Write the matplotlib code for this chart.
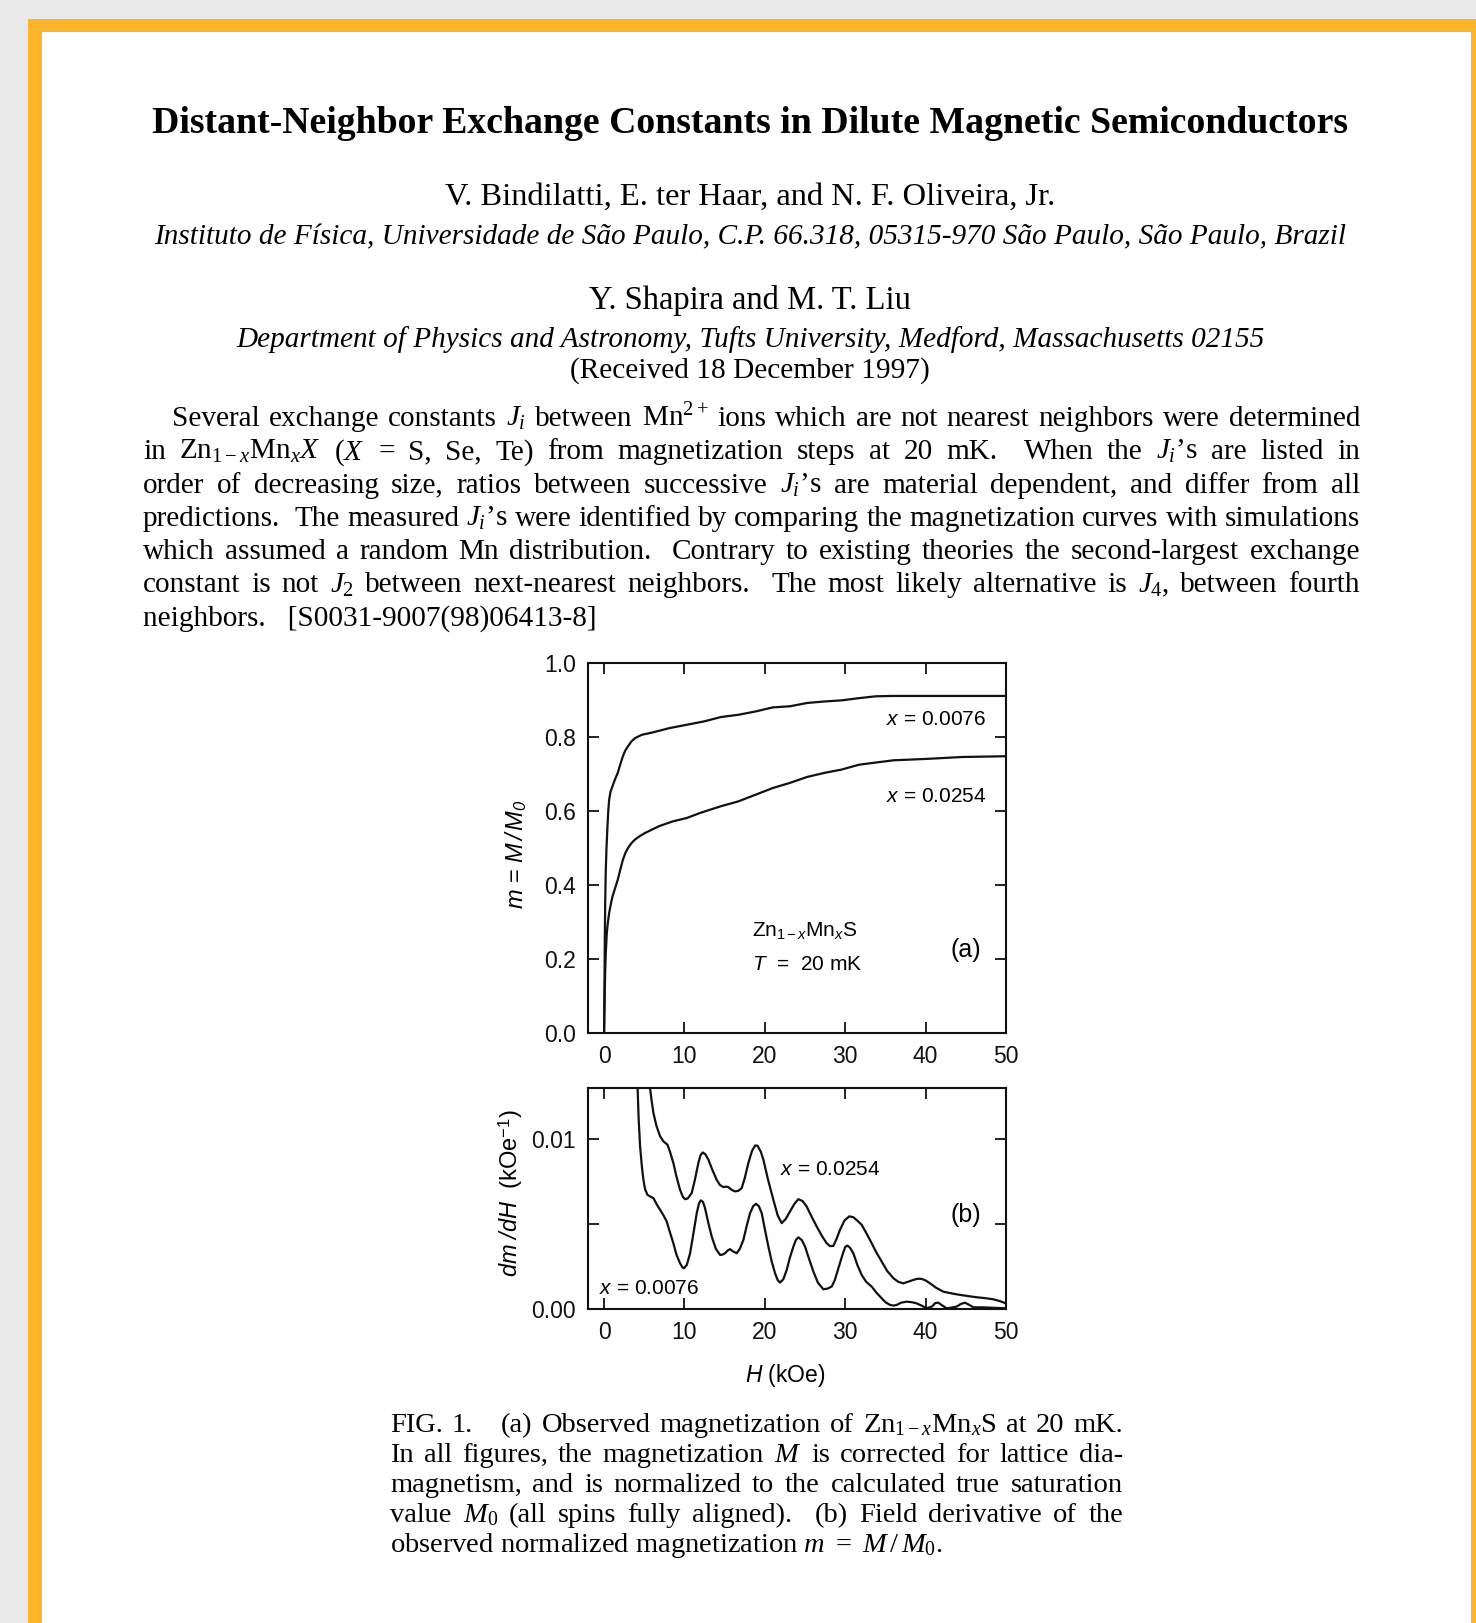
import matplotlib
matplotlib.use('Agg')
import matplotlib.pyplot as plt
from matplotlib.patches import Rectangle

W, H = 1476, 1623

# (a) magnetization curves
h_a_0076 = [0.0, 0.05, 0.09, 0.14, 0.2, 0.3, 0.42, 0.52, 0.63, 0.8, 1.05, 1.35, 1.7, 2.0, 2.34, 2.65,
            2.98, 3.4, 3.85, 4.7, 5.98, 8.12, 10.27, 12.41, 14.55, 16.7, 18.84, 20.98, 23.12, 25.26,
            27.4, 29.55, 31.7, 33.8, 36.0, 40.3, 50.0]
m_a_0076 = [0.0, 0.12, 0.25, 0.35, 0.43, 0.5, 0.557, 0.6, 0.63, 0.652, 0.667, 0.685, 0.703, 0.725, 0.748, 0.764,
            0.775, 0.788, 0.797, 0.806, 0.812, 0.824, 0.833, 0.842, 0.854, 0.86, 0.869, 0.88, 0.883, 0.892,
            0.896, 0.899, 0.905, 0.91, 0.911, 0.911, 0.911]
h_a_0254 = [0.0, 0.06, 0.13, 0.22, 0.34, 0.48, 0.63, 0.85, 1.05, 1.35, 1.7, 2.0, 2.34, 2.65, 2.98, 3.4,
            3.85, 4.5, 5.13, 6.84, 8.55, 10.27, 11.98, 14.55, 16.7, 18.84, 20.98, 23.12, 25.26, 27.4,
            29.55, 31.7, 33.8, 36.0, 40.3, 44.6, 50.0]
m_a_0254 = [0.0, 0.08, 0.16, 0.22, 0.27, 0.3, 0.324, 0.35, 0.369, 0.39, 0.414, 0.44, 0.468, 0.487, 0.5, 0.513,
            0.523, 0.533, 0.541, 0.559, 0.572, 0.581, 0.595, 0.613, 0.626, 0.644, 0.662, 0.676, 0.692, 0.703,
            0.712, 0.725, 0.731, 0.737, 0.741, 0.746, 0.748]

# (b) dm/dH in units of 1e-3 kOe^-1
h_b_0254 = [5.64, 5.9, 6.14, 6.5, 6.97, 7.4, 7.88, 8.2, 8.62, 9.0, 9.45, 9.8, 10.07, 10.4, 10.9, 11.3,
            11.73, 12.0, 12.27, 12.6, 12.98, 13.5, 14.01, 14.4, 14.84, 15.2, 15.46, 15.9, 16.29, 16.7,
            17.12, 17.5, 17.95, 18.4, 18.8, 19.1, 19.5, 19.82, 20.4, 21.06, 21.6, 22.1, 22.6, 23.13,
            23.7, 24.17, 24.7, 25.2, 25.8, 26.45, 27.1, 27.69, 28.1, 28.52, 28.9, 29.35, 29.9, 30.5,
            31.0, 31.5, 32.05, 32.7, 33.29, 33.9, 34.54, 35.2, 35.99, 36.6, 37.23, 37.8, 38.47, 39.0,
            39.5, 40.0, 40.55, 41.3, 42.2, 43.2, 44.28, 45.3, 46.35, 47.4, 48.42, 49.2, 50.0]
d_b_0254 = [13.3, 12.3, 11.53, 10.8, 10.16, 9.85, 9.67, 9.25, 8.59, 7.8, 7.01, 6.6, 6.46, 6.5, 6.82, 7.6,
            8.59, 9.05, 9.21, 9.1, 8.78, 8.15, 7.6, 7.3, 7.17, 7.2, 7.17, 7.0, 6.92, 6.95,
            7.11, 7.7, 8.59, 9.3, 9.62, 9.6, 9.25, 8.78, 7.6, 6.42, 5.5, 5.05, 5.3, 5.74,
            6.2, 6.46, 6.35, 6.03, 5.45, 4.85, 4.3, 3.87, 3.7, 3.71, 4.1, 4.66, 5.2, 5.45,
            5.4, 5.2, 4.95, 4.4, 3.87, 3.3, 2.79, 2.25, 1.81, 1.6, 1.51, 1.6, 1.71, 1.78,
            1.77, 1.68, 1.51, 1.25, 1.02, 0.92, 0.83, 0.76, 0.69, 0.64, 0.57, 0.47, 0.33]
h_b_0076 = [4.15, 4.3, 4.48, 4.7, 4.89, 5.1, 5.39, 5.8, 6.14, 6.5, 6.97, 7.4, 7.79, 8.2, 8.62, 9.0,
            9.45, 9.75, 9.95, 10.3, 10.7, 11.1, 11.53, 11.8, 12.02, 12.3, 12.56, 12.95, 13.39, 13.9,
            14.43, 14.75, 15.05, 15.4, 15.67, 16.0, 16.5, 16.9, 17.33, 17.75, 18.16, 18.55, 18.91, 19.25,
            19.61, 20.0, 20.44, 20.85, 21.27, 21.6, 21.89, 22.3, 22.72, 23.1, 23.55, 23.85, 24.17, 24.6,
            25.0, 25.5, 26.04, 26.6, 27.28, 27.8, 28.32, 28.7, 29.15, 29.7, 30.0, 30.27, 30.6, 31.01,
            31.5, 32.05, 32.6, 33.29, 33.9, 34.54, 35.0, 35.57, 36.0, 36.4, 37.0, 37.64, 38.3, 38.89,
            39.5, 40.13, 40.8, 41.2, 41.58, 42.1, 42.62, 43.2, 43.86, 44.4, 44.9, 45.4, 45.94, 47.0,
            48.0, 49.0, 50.0]
d_b_0076 = [13.3, 11.2, 9.57, 8.4, 7.6, 7.05, 6.72, 6.6, 6.52, 6.2, 5.83, 5.5, 5.15, 4.5, 3.87, 3.2,
            2.69, 2.45, 2.4, 2.6, 3.28, 4.4, 5.64, 6.2, 6.39, 6.3, 5.93, 5.1, 4.26, 3.55,
            3.18, 3.2, 3.28, 3.45, 3.52, 3.4, 3.28, 3.55, 4.07, 4.9, 5.64, 6.05, 6.19, 6.05,
            5.64, 4.7, 3.67, 2.8, 2.1, 1.7, 1.55, 1.75, 2.3, 3.0, 3.67, 4.05, 4.22, 4.05,
            3.67, 2.95, 2.2, 1.55, 1.16, 1.2, 1.32, 1.7, 2.4, 3.25, 3.65, 3.73, 3.6, 3.28,
            2.6, 2.0, 1.6, 1.32, 0.95, 0.63, 0.4, 0.24, 0.2, 0.24, 0.38, 0.43, 0.4, 0.33,
            0.2, 0.04, 0.15, 0.35, 0.37, 0.2, 0.04, 0.08, 0.14, 0.3, 0.37, 0.25, 0.1, 0.1,
            0.08, 0.06, 0.04]

title = 'Distant-Neighbor Exchange Constants in Dilute Magnetic Semiconductors'
authors1 = 'V. Bindilatti, E. ter Haar, and N. F. Oliveira, Jr.'
affil1 = 'Instituto de Física, Universidade de São Paulo, C.P. 66.318, 05315-970 São Paulo, São Paulo, Brazil'
authors2 = 'Y. Shapira and M. T. Liu'
affil2 = 'Department of Physics and Astronomy, Tufts University, Medford, Massachusetts 02155'
received = '(Received 18 December 1997)'

abstract = [
    'Several exchange constants $J_i$ between Mn$^{2+}$ ions which are not nearest neighbors were determined',
    'in Zn$_{1-x}$Mn$_x{X}$ ($X$ = S, Se, Te) from magnetization steps at 20 mK.  When the $J_i$’s are listed in',
    'order of decreasing size, ratios between successive $J_i$’s are material dependent, and differ from all',
    'predictions.  The measured $J_i$’s were identified by comparing the magnetization curves with simulations',
    'which assumed a random Mn distribution.  Contrary to existing theories the second-largest exchange',
    'constant is not $J_2$ between next-nearest neighbors.  The most likely alternative is $J_4$, between fourth',
    'neighbors.   [S0031-9007(98)06413-8]',
]
caption = [
    'FIG. 1.   (a) Observed magnetization of Zn$_{1-x}$Mn$_x$S at 20 mK.',
    'In all figures, the magnetization $M$ is corrected for lattice dia-',
    'magnetism, and is normalized to the calculated true saturation',
    'value $M_0$ (all spins fully aligned).  (b) Field derivative of the',
    r'observed normalized magnetization $m\ =\ M\,/\,M_0$.',
]

plt.rcParams['font.family'] = 'Liberation Sans'
plt.rcParams['mathtext.fontset'] = 'custom'
plt.rcParams['mathtext.rm'] = 'Liberation Serif'
plt.rcParams['mathtext.it'] = 'Liberation Serif:italic'
plt.rcParams['mathtext.sf'] = 'Liberation Sans:italic'
plt.rcParams['mathtext.bf'] = 'Liberation Sans'

fig = plt.figure(figsize=(W / 100, H / 100), dpi=100, facecolor='#e9e9e9')
fig.add_artist(Rectangle((28 / W, 0), (W - 28) / W, (H - 19) / H, transform=fig.transFigure,
                         facecolor='#fcb52b', edgecolor='none', zorder=0))
fig.add_artist(Rectangle((42 / W, 0), (1471 - 42) / W, (H - 32) / H, transform=fig.transFigure,
                         facecolor='white', edgecolor='none', zorder=0))
renderer = fig.canvas.get_renderer()
serif = 'Liberation Serif'


def put(x, y, s, **kw):
    return fig.text(x / W, 1 - y / H, s, va='baseline', family=serif, **kw)


def justify(s, x0, x1, y, size):
    # spread words over x0..x1, extra blanks give a wider gap
    words, weights = [], []
    for p in s.split(' '):
        if p == '':
            weights[-1] += 1
        else:
            words.append(p)
            weights.append(1)
    weights = weights[:-1]
    texts = [put(0, y, w, fontsize=size) for w in words]
    widths = [t.get_window_extent(renderer).width for t in texts]
    unit = (x1 - x0 - sum(widths)) / sum(weights)
    x = x0
    for i, t in enumerate(texts):
        t.set_x(x / W)
        if i < len(weights):
            x += widths[i] + unit * weights[i]


# header
put(750, 133, title, fontsize=27.2, weight='bold', ha='center')
put(750, 205, authors1, fontsize=23.4, ha='center')
put(750, 244, affil1, fontsize=21.1, style='italic', ha='center')
put(750, 309, authors2, fontsize=23.5, ha='center')
put(750, 347, affil2, fontsize=21.1, style='italic', ha='center')
put(750, 378, received, fontsize=21.2, ha='center')

# abstract
for i, s in enumerate(abstract):
    y = 426 + 33.3 * i
    if i == len(abstract) - 1:
        put(143, y, s, fontsize=21.1)
    else:
        justify(s, 172 if i == 0 else 143, 1360, y, 21.1)

# caption
for i, s in enumerate(caption):
    y = 1432 + 30 * i
    if i == len(caption) - 1:
        put(390, y, s, fontsize=20.5)
    else:
        justify(s, 390, 1123, y, 20.5)

lw = 1.6
ink = '#111111'

ax1 = fig.add_axes([588 / W, 1 - 1033 / H, 418 / W, 370 / H])
ax1.plot(h_a_0076, m_a_0076, color=ink, lw=lw, solid_joinstyle='round')
ax1.plot(h_a_0254, m_a_0254, color=ink, lw=lw, solid_joinstyle='round')
ax1.set_xlim(-2, 50)
ax1.set_ylim(0, 1)
ax1.set_xticks([0, 10, 20, 30, 40, 50])
ax1.set_yticks([0, 0.2, 0.4, 0.6, 0.8, 1.0])
ax1.set_ylabel(r'$\mathsf{m}$ = $\mathsf{M\,/\,M_0}$', fontsize=17)
ax1.yaxis.set_label_coords(-0.14, 0.484)
ax1.text(47.5, 0.846, r'$\mathsf{x}$ = 0.0076', fontsize=15, ha='right', va='center')
ax1.text(47.5, 0.638, r'$\mathsf{x}$ = 0.0254', fontsize=15, ha='right', va='center')
ax1.text(18.4, 0.278, r'Zn$_{\mathbf{1-}\mathsf{x}}$Mn$_{\mathsf{x}}$S', fontsize=15, ha='left', va='center')
ax1.text(18.4, 0.184, r'$\mathsf{T}$  =  20 mK', fontsize=15, ha='left', va='center')
ax1.text(46.9, 0.224, '(a)', fontsize=18, ha='right', va='center')

ax2 = fig.add_axes([588 / W, 1 - 1309 / H, 418 / W, 221 / H])
ax2.plot(h_b_0254, [v / 1000 for v in d_b_0254], color=ink, lw=lw, solid_joinstyle='round')
ax2.plot(h_b_0076, [v / 1000 for v in d_b_0076], color=ink, lw=lw, solid_joinstyle='round')
ax2.set_xlim(-2, 50)
ax2.set_ylim(0, 0.013)
ax2.set_xticks([0, 10, 20, 30, 40, 50])
ax2.set_yticks([0, 0.005, 0.01])
ax2.set_yticklabels(['0.00', '', '0.01'])
ax2.set_ylabel(r'$\mathsf{dm\ /dH}$  (kOe$^{\mathbf{-1}}$)', fontsize=17)
ax2.yaxis.set_label_coords(-0.15, 0.525)
ax2.set_xlabel(r'$\mathsf{H}$ (kOe)', fontsize=16.5)
ax2.xaxis.set_label_coords(0.471, -0.24)
ax2.text(21.9, 0.00819, r'$\mathsf{x}$ = 0.0254', fontsize=15, ha='left', va='center')
ax2.text(-0.6, 0.00118, r'$\mathsf{x}$ = 0.0076', fontsize=15, ha='left', va='center')
ax2.text(46.9, 0.00554, '(b)', fontsize=18, ha='right', va='center')

for ax in (ax1, ax2):
    ax.tick_params(direction='in', top=True, right=True, length=8, width=1.3,
                   labelsize=16.5, pad=8.5, colors=ink)
    for sp in ax.spines.values():
        sp.set_linewidth(1.5)
        sp.set_color(ink)

fig.savefig('out.png', dpi=100, facecolor=fig.get_facecolor())
